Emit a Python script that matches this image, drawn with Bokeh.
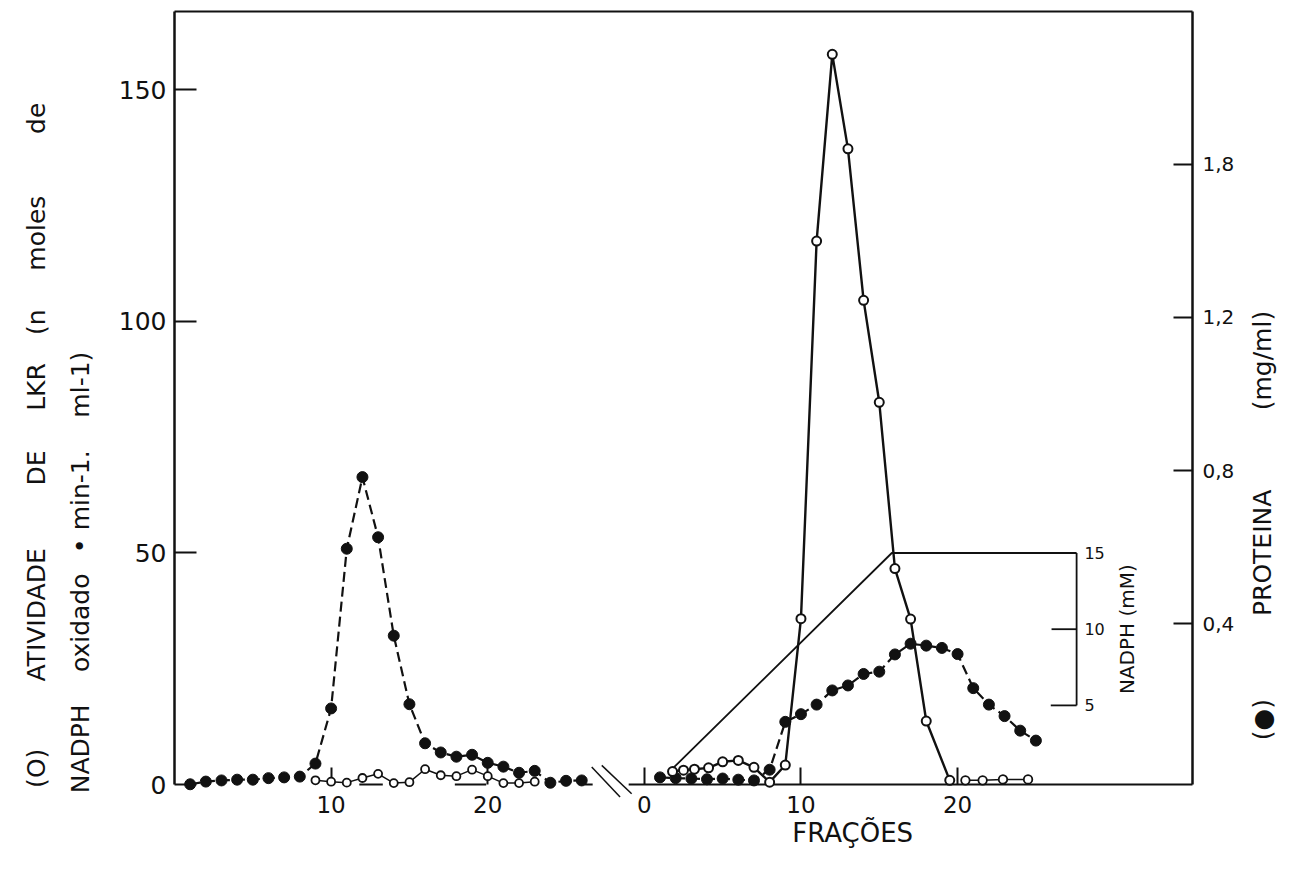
import math

from bokeh.core.properties import value
from bokeh.embed import file_html
from bokeh.models import FixedTicker, LinearAxis, Range1d
from bokeh.plotting import figure
from bokeh.resources import INLINE

# ---------------------------------------------------------------------------
# Data: two chromatography runs drawn side by side on one shared x scale.
# First run (left block): fraction number, protein (mg/ml), LKR activity.
left_frac = list(range(1, 27))
left_protein = [-0.019, -0.012, -0.009, -0.007, -0.007, -0.003, -0.001, 0.001,
                0.035, 0.179, 0.596, 0.783, 0.626, 0.369, 0.190, 0.088, 0.064,
                0.053, 0.058, 0.037, 0.027, 0.011, 0.016, -0.015, -0.010, -0.009]
left_lkr_frac = list(range(9, 24))
left_lkr = [0.9, 0.6, 0.4, 1.4, 2.3, 0.3, 0.5, 3.3, 2.0, 1.8, 3.2, 1.8, 0.3, 0.3, 0.6]

# Second run (right block), NADPH gradient elution.
right_frac = list(range(1, 26))
right_protein = [-0.001, -0.003, -0.004, -0.006, -0.004, -0.007, -0.009, 0.019,
                 0.144, 0.164, 0.189, 0.226, 0.239, 0.269, 0.275, 0.320, 0.348,
                 0.343, 0.337, 0.321, 0.232, 0.189, 0.159, 0.121, 0.095]
right_lkr_frac = [1.8, 2.5, 3.2, 4.1, 5, 6, 7, 8, 9, 10, 11, 12, 13, 14, 15, 16,
                  17, 18, 19.5]
right_lkr = [2.8, 3.1, 3.3, 3.6, 4.9, 5.2, 3.7, 0.5, 4.2, 35.8, 117.3, 157.6,
             137.2, 104.5, 82.5, 46.6, 35.7, 13.7, 0.9]
tail_lkr_frac = [20.5, 21.6, 22.9, 24.5]
tail_lkr = [0.9, 0.9, 1.1, 1.1]

# NADPH gradient (mM) and its small scale
nadph_frac = [1.85, 15.8, 27.6]
nadph_mM = [0.9, 15, 15]
nadph_ticks = [5, 10, 15]
nadph_axis_frac = 27.6

# Axis ticks
lkr_ticks = [0, 50, 100, 150]
protein_ticks = [0.4, 0.8, 1.2, 1.6]
protein_tick_labels = ["0,4", "0,8", "1,2", "1,8"]
frac_ticks_left = [10, 20]
frac_ticks_right = [0, 10, 20]

# Offset of the second run on the shared x scale
X0 = 30

FONT = "DejaVu Sans"
INK = "#111111"

# ---------------------------------------------------------------------------
p = figure(width=1294, height=878,
           x_range=Range1d(0, 65), y_range=Range1d(0, 166.85),
           output_backend="svg", toolbar_location=None,
           min_border_left=174, min_border_right=102,
           min_border_top=11, min_border_bottom=94)
p.extra_y_ranges = {"prot": Range1d(-0.0196, 1.9987),
                    "nadph": Range1d(-0.19, 50.53)}
p.outline_line_color = None
p.grid.visible = False
p.background_fill_color = "white"
p.border_fill_color = "white"

# bottom axis: fraction numbers for both runs, ticks pointing up
xt = frac_ticks_left + [X0 + t for t in frac_ticks_right]
xl = [str(t) for t in frac_ticks_left] + [str(t) for t in frac_ticks_right]
xaxis = p.xaxis[0]
xaxis.ticker = FixedTicker(ticks=xt)
xaxis.major_label_overrides = dict(zip(xt, xl))
xaxis.axis_line_color = None
xaxis.major_tick_in = 17
xaxis.major_tick_out = 0
xaxis.major_tick_line_width = 2
xaxis.major_tick_line_color = INK
xaxis.minor_tick_line_color = None
xaxis.major_label_text_font = FONT
xaxis.major_label_text_font_size = "23px"
xaxis.major_label_text_color = INK
xaxis.major_label_standoff = 11

# left axis: LKR activity
yaxis = p.yaxis[0]
yaxis.ticker = FixedTicker(ticks=lkr_ticks)
yaxis.axis_line_width = 2.5
yaxis.axis_line_color = INK
yaxis.major_tick_in = 22
yaxis.major_tick_out = 0
yaxis.major_tick_line_width = 2
yaxis.major_tick_line_color = INK
yaxis.minor_tick_line_color = None
yaxis.major_label_text_font = FONT
yaxis.major_label_text_font_size = "25px"
yaxis.major_label_text_color = INK
yaxis.major_label_standoff = 8

# right axis: protein
raxis = LinearAxis(y_range_name="prot",
                   ticker=FixedTicker(ticks=protein_ticks),
                   major_label_overrides=dict(zip(protein_ticks, protein_tick_labels)),
                   axis_line_width=2.5, axis_line_color=INK,
                   major_tick_in=19, major_tick_out=0,
                   major_tick_line_width=2, major_tick_line_color=INK,
                   minor_tick_line_color=None,
                   major_label_text_font=FONT, major_label_text_font_size="20px",
                   major_label_text_color=INK, major_label_standoff=10)
p.add_layout(raxis, "right")

# top border line
taxis = LinearAxis(ticker=FixedTicker(ticks=[]), axis_line_width=2,
                   axis_line_color=INK, major_tick_in=0, major_tick_out=0,
                   minor_tick_line_color=None, major_label_text_font_size="0px")
p.add_layout(taxis, "above")

renderers = []

# baseline pieces
base_x0 = [11.8, 17.9, 26.2, X0 - 1.0]
base_x1 = [13.3, 19.9, 26.7, 65]
renderers.append(p.segment(x0=base_x0, y0=[0] * 4, x1=base_x1, y1=[0] * 4,
                           line_color=INK, line_width=2))

# axis break marks between the two runs
renderers.append(p.segment(x0=[26.64, 27.28], y0=[3.76, 4.12],
                           x1=[28.45, 29.19], y1=[-2.72, -1.99],
                           line_color=INK, line_width=1.5))

# first run
renderers.append(p.line(left_frac, left_protein, y_range_name="prot",
                        line_color=INK, line_width=2.2, line_dash="10 5"))
renderers.append(p.scatter(left_frac, left_protein, y_range_name="prot",
                           size=11, fill_color=INK, line_color=INK))
renderers.append(p.line(left_lkr_frac, left_lkr, line_color=INK, line_width=1.5))
renderers.append(p.scatter(left_lkr_frac, left_lkr, size=8, fill_color="white",
                           line_color=INK, line_width=1.8))

# second run
rx = [X0 + g for g in right_frac]
renderers.append(p.line(rx, right_protein, y_range_name="prot",
                        line_color=INK, line_width=2.2, line_dash="10 5"))
renderers.append(p.scatter(rx, right_protein, y_range_name="prot",
                           size=11, fill_color=INK, line_color=INK))
rlx = [X0 + g for g in right_lkr_frac]
renderers.append(p.line(rlx, right_lkr, line_color=INK, line_width=2.4))
renderers.append(p.scatter(rlx, right_lkr, size=9, fill_color="white",
                           line_color=INK, line_width=2))
tlx = [X0 + g for g in tail_lkr_frac]
renderers.append(p.line(tlx, tail_lkr, line_color=INK, line_width=1.5))
renderers.append(p.scatter(tlx, tail_lkr, size=8.5, fill_color="white",
                           line_color=INK, line_width=1.8))

# NADPH gradient and its scale
renderers.append(p.line([X0 + g for g in nadph_frac], nadph_mM, y_range_name="nadph",
                        line_color=INK, line_width=1.8))
ax_x = X0 + nadph_axis_frac
renderers.append(p.segment(x0=[ax_x, ax_x - 1.6, ax_x - 1.65],
                           y0=[nadph_ticks[0], nadph_ticks[1], nadph_ticks[0]],
                           x1=[ax_x, ax_x, ax_x],
                           y1=[nadph_ticks[2], nadph_ticks[1], nadph_ticks[0]],
                           y_range_name="nadph", line_color=INK, line_width=1.8))
renderers.append(p.text(x=[ax_x + 0.5] * 3, y=nadph_ticks,
                        text=[str(t) for t in nadph_ticks],
                        y_range_name="nadph", text_font=value(FONT),
                        text_font_size="16px", text_align="left",
                        text_baseline="middle", text_color=INK))
renderers.append(p.text(x=[ax_x + 3.2], y=[10], text=["NADPH (mM)"],
                        y_range_name="nadph", angle=math.pi / 2,
                        text_font=value(FONT), text_font_size="20px",
                        text_align="center", text_baseline="middle",
                        text_color=INK))


# axis titles, word by word along the rotated baseline
def rotated_words(x, words, size):
    return p.text(x=[x] * len(words), y=[w[1] for w in words],
                  text=[w[0] for w in words], angle=math.pi / 2,
                  text_font=value(FONT), text_font_size=size,
                  text_align="center", text_baseline="middle", text_color=INK)


renderers.append(rotated_words(-8.84, [("(O)", 3.5), ("ATIVIDADE", 36.6),
                                       ("DE", 68.3), ("LKR", 85.8),
                                       ("(n", 99.8), ("moles", 119.0),
                                       ("de", 143.8)], "25px"))
renderers.append(rotated_words(-6.03, [("NADPH", 7.7), ("oxidado", 34.9),
                                       ("•", 51.5), ("min-1.", 63.5),
                                       ("ml-1)", 86.3)], "25px"))
renderers.append(rotated_words(69.44, [("(●)", 14.0), ("PROTEINA", 50.0),
                                       ("(mg/ml)", 91.5)], "25px"))
renderers.append(p.text(x=[43.3], y=[-10.5], text=["FRAÇÕES"],
                        text_font=value(FONT), text_font_size="26px",
                        text_align="center", text_baseline="middle",
                        text_color=INK))

for r in renderers:
    r.level = "overlay"

open("out.html", "w").write(file_html(p, INLINE))
